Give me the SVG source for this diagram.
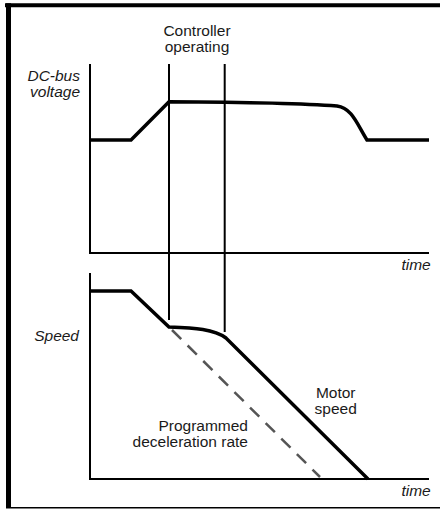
<svg xmlns="http://www.w3.org/2000/svg" width="440" height="509" viewBox="0 0 440 509">
<style>
.t{font-family:"Liberation Sans",Arial,sans-serif;font-size:15.5px;fill:#1a1a1a}
.i{font-style:italic}
.ax{stroke:#000;stroke-width:2;fill:none}
.cv{stroke:#000;stroke-width:3.5;fill:none;stroke-linejoin:miter}
.ds{stroke:#555;stroke-width:2.5;fill:none;stroke-dasharray:13 9}
</style>
<rect width="440" height="509" fill="#fff"/>
<g id="frame">
<line x1="5" y1="5.3" x2="440" y2="5.3" stroke="#000" stroke-width="4"/>
<line x1="8.5" y1="3.3" x2="8.5" y2="508" stroke="#000" stroke-width="5"/>
<line x1="6" y1="507.8" x2="440" y2="507.8" stroke="#000" stroke-width="1.5"/>
</g>
<g id="axes">
<path class="ax" d="M90 64V253H429"/>
<path class="ax" d="M90 273V479H429"/>
</g>
<g id="connectors">
<line class="ax" x1="169" y1="64" x2="169" y2="320"/>
<line class="ax" x1="224.7" y1="64" x2="224.7" y2="332"/>
</g>
<g id="dcbus">
<path class="cv" d="M90 140H131L169 101.7C230 102 300 103 337 106C352 108 357 124 367 140H429"/>
</g>
<g id="speed">
<path class="cv" d="M90 291H131L169 327C195 328 214 329 226 338L368 479"/>
<path class="ds" d="M172 330L320 477"/>
</g>
<g id="labels">
<text class="t" x="197" y="35.5" text-anchor="middle">Controller</text>
<text class="t" x="197" y="51.7" text-anchor="middle">operating</text>
<text class="t i" x="80" y="80.7" text-anchor="end">DC-bus</text>
<text class="t i" x="80" y="96.7" text-anchor="end">voltage</text>
<text class="t i" x="79" y="340.7" text-anchor="end">Speed</text>
<text class="t i" x="430.7" y="270" text-anchor="end">time</text>
<text class="t i" x="430.7" y="496" text-anchor="end">time</text>
<text class="t" x="335.7" y="398.3" text-anchor="middle">Motor</text>
<text class="t" x="335.7" y="413.8" text-anchor="middle">speed</text>
<text class="t" x="248" y="430.7" text-anchor="end">Programmed</text>
<text class="t" x="248" y="447.3" text-anchor="end">deceleration rate</text>
</g>
</svg>
